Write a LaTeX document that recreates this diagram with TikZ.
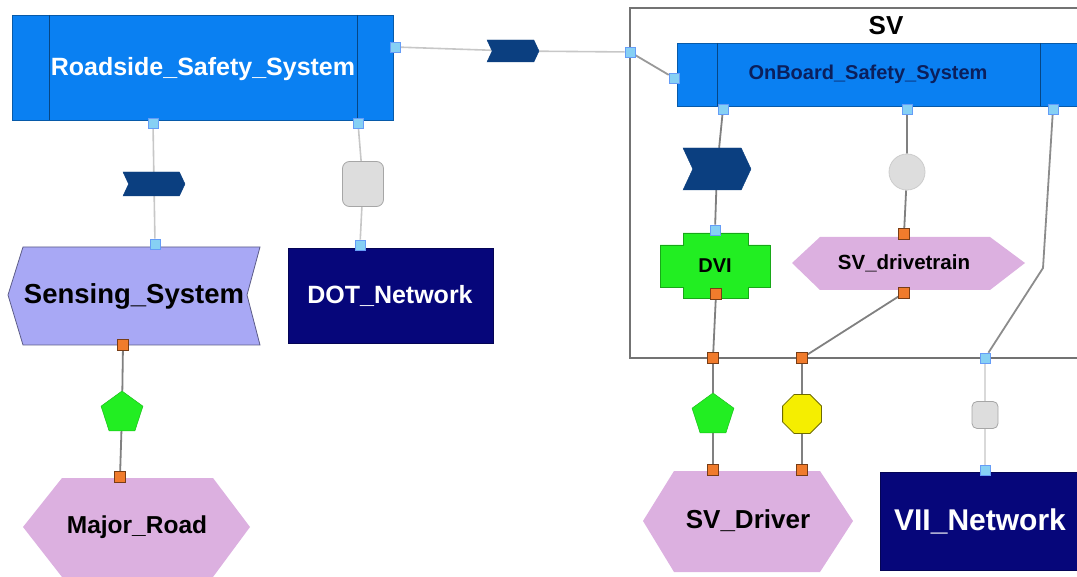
\documentclass[tikz,border=0pt]{standalone}
\usepackage{fontspec}
\setmainfont{Liberation Sans}
\usetikzlibrary{shapes.geometric,shapes.symbols}
\pgfdeclarelayer{bg}
\pgfsetlayers{bg,main}
\definecolor{sysblue}{HTML}{0A80F2}
\definecolor{navyb}{HTML}{06067A}
\definecolor{chev}{HTML}{0B3F80}
\definecolor{lav}{HTML}{A8A8F5}
\definecolor{pinkh}{HTML}{DCB0E0}
\definecolor{grn}{HTML}{22EE22}
\definecolor{yel}{HTML}{F5EE00}
\definecolor{lgrey}{HTML}{DDDDDD}
\definecolor{bportc}{HTML}{86D0F4}
\definecolor{oportc}{HTML}{F07B2C}
\definecolor{obtext}{HTML}{0B1F5C}
\begin{document}
\begin{tikzpicture}[x=1pt,y=-1pt,
 bport/.style={rectangle,fill=bportc,draw=bportc!75!blue,line width=0.6,minimum size=10,inner sep=0},
 oport/.style={rectangle,fill=oportc,draw=oportc!50!black,line width=0.6,minimum size=11,inner sep=0},
 lconn/.style={draw=black!22,line width=1.6},
 dconn/.style={draw=black!50,line width=1.8},
 chevron/.style={signal,signal to=east,signal from=west,signal pointer angle=130,fill=chev,draw=chev,inner sep=0},
 lbl/.style={font=\bfseries\fontsize{#1}{#1}\selectfont,inner sep=0},
 sysbox/.style={rectangle,fill=sysblue,draw=sysblue!70!black,line width=0.8,inner sep=0},
 netbox/.style={rectangle,fill=navyb,draw=navyb!70!black,line width=0.8,inner sep=0,text=white},
 greyobj/.style={fill=lgrey,draw=black!35,line width=0.8,inner sep=0},
 hexa/.style={fill=pinkh,draw=none},
 greenpent/.style={regular polygon,regular polygon sides=5,fill=grn,draw=grn!80!black,line width=0.5,minimum size=44,inner sep=0},
]
\useasboundingbox (0,0) rectangle (1077,577);
\clip (0,0) rectangle (1077,577);

% ---- SV container
\draw[black!55,line width=2] (630,8) rectangle (1095,358);
\node[lbl=26] (svtitle) at (886,26) {SV};

% ---- Roadside_Safety_System
\node[sysbox,minimum width=381,minimum height=105] (rss) at (202.5,67.5) {};
\draw[sysblue!55!black,line width=0.8] (49,15) -- (49,120) (357,15) -- (357,120);
\node[lbl=25,text=white] (rsstxt) at (203,69) {Roadside\_Safety\_System};

% ---- OnBoard_Safety_System
\node[sysbox,minimum width=410,minimum height=63] (obs) at (882,74.5) {};
\draw[sysblue!55!black,line width=0.8] (717,43) -- (717,106) (1040,43) -- (1040,106);
\node[lbl=20,text=obtext] (obstxt) at (868,74) {OnBoard\_Safety\_System};

% ---- Sensing_System
\path[fill=lav,draw=lav!55!black,line width=0.8] (23,247) -- (260,247) -- (247,295) -- (260,345) -- (23,345) -- (8,295) -- cycle;
\node[lbl=27.5] (sens) at (134,296) {Sensing\_System};

% ---- DOT_Network
\node[netbox,minimum width=205,minimum height=95] (dot) at (390.5,295.5) {};
\node[lbl=25,text=white] (dottxt) at (390,296) {DOT\_Network};

% ---- Major_Road
\path[hexa] (62,478) -- (213,478) -- (250,527) -- (213,577) -- (62,577) -- (23,527) -- cycle;
\node[lbl=24.5] (mroad) at (137,527) {Major\_Road};

% ---- DVI
\path[fill=grn,draw=grn!70!black,line width=0.6] (683,233) -- (748,233) -- (748,245) -- (770,245) -- (770,287) -- (748,287) -- (748,298) -- (683,298) -- (683,287) -- (660,287) -- (660,245) -- (683,245) -- cycle;
\node[lbl=20] (dvi) at (715,266) {DVI};

% ---- SV_drivetrain
\path[hexa] (820,237) -- (990,237) -- (1025,263) -- (990,290) -- (820,290) -- (792,263) -- cycle;
\node[lbl=20.5] (drv) at (904,263) {SV\_drivetrain};

% ---- SV_Driver
\path[hexa] (674,471) -- (820,471) -- (853,521) -- (820,572) -- (674,572) -- (643,521) -- cycle;
\node[lbl=26] (svd) at (748,521) {SV\_Driver};

% ---- VII_Network
\node[netbox,minimum width=210,minimum height=98] (vii) at (985,521) {};
\node[lbl=30,text=white] (viitxt) at (980,521) {VII\_Network};

% ---- intermediate objects
\node[chevron,minimum width=52,minimum height=22] (c1) at (513,51) {};
\node[chevron,minimum width=62,minimum height=24] (c2) at (154,184) {};
\node[greyobj,rectangle,rounded corners=7,minimum width=41,minimum height=45] (c3) at (363,184) {};
\node[chevron,minimum width=68,minimum height=42] (c4) at (717,169) {};
\node[greyobj,circle,draw=black!20,minimum size=36] (c5) at (907,172) {};
\node[greenpent] (c6) at (122,413) {};
\node[greenpent] (c7) at (713,415) {};
\node[regular polygon,regular polygon sides=8,fill=yel,draw=yel!45!black,line width=0.8,minimum size=42,inner sep=0] (c8) at (802,414) {};
\node[greyobj,rectangle,rounded corners=5,minimum width=26,minimum height=27] (c9) at (985,415) {};

% ---- ports
\node[bport] (p1) at (395,47) {};
\node[bport] (p2) at (153,123) {};
\node[bport] (p3) at (358,123) {};
\node[bport] (p4) at (155,244) {};
\node[bport] (p5) at (360,245) {};
\node[bport] (p6) at (630,52) {};
\node[bport] (p7) at (674,78) {};
\node[bport] (p8) at (723,109) {};
\node[bport] (p9) at (907,109) {};
\node[bport] (p10) at (1053,109) {};
\node[bport] (p11) at (715,230) {};
\node[oport] (p12) at (904,234) {};
\node[oport] (p13) at (716,294) {};
\node[oport] (p14) at (904,293) {};
\node[oport] (p15) at (713,358) {};
\node[oport] (p16) at (802,358) {};
\node[bport] (p17) at (985,358) {};
\node[oport] (p18) at (713,470) {};
\node[oport] (p19) at (802,470) {};
\node[bport] (p20) at (985,470) {};
\node[oport] (p21) at (123,345) {};
\node[oport] (p22) at (120,477) {};
\coordinate (bend) at (1043,268);

% ---- connectors
\begin{pgfonlayer}{bg}
\draw[lconn] (p1) -- (c1) -- (p6);
\draw[dconn,draw=black!40] (p6) -- (p7);
\draw[lconn] (p2) -- (c2) -- (p4);
\draw[lconn] (p3) -- (c3) -- (p5);
\draw[dconn] (p8) -- (c4) -- (p11);
\draw[dconn] (p9) -- (c5) -- (p12);
\draw[dconn] (p13) -- (p15);
\draw[dconn] (p14) -- (p16);
\draw[dconn,draw=black!45] (p10) -- (bend) -- (p17);
\draw[dconn] (p15) -- (c7) -- (p18);
\draw[dconn] (p16) -- (c8) -- (p19);
\draw[lconn,draw=black!15] (p17) -- (c9) -- (p20);
\draw[dconn] (p21) -- (c6) -- (p22);
\end{pgfonlayer}
\end{tikzpicture}
\end{document}
